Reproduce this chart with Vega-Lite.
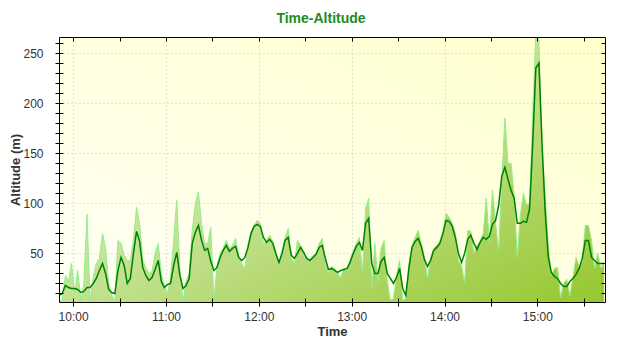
{
  "$schema": "https://vega.github.io/schema/vega-lite/v6.json",
  "width": 546,
  "height": 265,
  "autosize": {"type": "none"},
  "padding": {"left": 59, "top": 37, "right": 35, "bottom": 48},
  "background": "white",
  "config": {
    "font": "Liberation Sans",
    "view": {"stroke": null, "fill": {"gradient": "linear", "x1": 0, "y1": 1, "x2": 1, "y2": 0, "stops": [{"offset": 0, "color": "#fffff6"}, {"offset": 1, "color": "#ffffcc"}]}}
  },
  "title": {"text": "Time-Altitude", "color": "#228b22", "fontSize": 14, "fontWeight": "bold", "font": "Liberation Sans", "offset": 11, "dx": -11},
  "data": {
    "format": {"parse": {"t": "date:'%H:%M'"}},
    "values": [
      {"t":"09:51","s":8,"r":5},{"t":"09:53","s":10,"r":2},{"t":"09:55","s":18,"r":28},{"t":"09:57","s":16,"r":22},{"t":"09:59","s":15,"r":40},
      {"t":"10:01","s":15,"r":10},{"t":"10:03","s":14,"r":33},{"t":"10:05","s":11,"r":3},{"t":"10:07","s":12,"r":20},{"t":"10:09","s":16,"r":89},
      {"t":"10:11","s":16,"r":3},{"t":"10:13","s":20,"r":26},{"t":"10:15","s":25,"r":40},{"t":"10:17","s":33,"r":45},{"t":"10:19","s":40,"r":70},
      {"t":"10:21","s":30,"r":55},{"t":"10:23","s":14,"r":20},{"t":"10:25","s":11,"r":8},{"t":"10:27","s":10,"r":3},{"t":"10:29","s":33,"r":63},
      {"t":"10:31","s":46,"r":60},{"t":"10:33","s":38,"r":48},{"t":"10:35","s":20,"r":43},{"t":"10:37","s":25,"r":43},{"t":"10:39","s":50,"r":63},
      {"t":"10:41","s":72,"r":96},{"t":"10:43","s":62,"r":80},{"t":"10:45","s":36,"r":43},{"t":"10:47","s":28,"r":36},{"t":"10:49","s":23,"r":30},
      {"t":"10:51","s":26,"r":32},{"t":"10:53","s":34,"r":50},{"t":"10:55","s":43,"r":60},{"t":"10:57","s":22,"r":30},{"t":"10:59","s":16,"r":18},
      {"t":"11:01","s":19,"r":10},{"t":"11:03","s":20,"r":26},{"t":"11:05","s":38,"r":63},{"t":"11:07","s":51,"r":103},{"t":"11:09","s":28,"r":35},
      {"t":"11:11","s":15,"r":2},{"t":"11:13","s":18,"r":22},{"t":"11:15","s":25,"r":30},{"t":"11:17","s":60,"r":73},{"t":"11:19","s":71,"r":100},
      {"t":"11:21","s":78,"r":111},{"t":"11:23","s":63,"r":80},{"t":"11:25","s":53,"r":60},{"t":"11:27","s":55,"r":60},{"t":"11:29","s":42,"r":76},
      {"t":"11:31","s":33,"r":3},{"t":"11:33","s":36,"r":38},{"t":"11:35","s":46,"r":50},{"t":"11:37","s":53,"r":55},{"t":"11:39","s":58,"r":63},
      {"t":"11:41","s":52,"r":55},{"t":"11:43","s":55,"r":58},{"t":"11:45","s":57,"r":65},{"t":"11:47","s":46,"r":48},{"t":"11:49","s":43,"r":40},
      {"t":"11:51","s":46,"r":35},{"t":"11:53","s":56,"r":58},{"t":"11:55","s":70,"r":72},{"t":"11:57","s":77,"r":78},{"t":"11:59","s":79,"r":83},
      {"t":"12:01","s":77,"r":80},{"t":"12:03","s":66,"r":60},{"t":"12:05","s":61,"r":63},{"t":"12:07","s":64,"r":68},{"t":"12:09","s":60,"r":62},
      {"t":"12:11","s":50,"r":52},{"t":"12:13","s":41,"r":38},{"t":"12:15","s":50,"r":52},{"t":"12:17","s":63,"r":66},{"t":"12:19","s":66,"r":75},
      {"t":"12:21","s":48,"r":46},{"t":"12:23","s":45,"r":40},{"t":"12:25","s":50,"r":63},{"t":"12:27","s":56,"r":58},{"t":"12:29","s":51,"r":48},
      {"t":"12:31","s":45,"r":44},{"t":"12:33","s":43,"r":44},{"t":"12:35","s":46,"r":48},{"t":"12:37","s":49,"r":50},{"t":"12:39","s":56,"r":60},
      {"t":"12:41","s":58,"r":65},{"t":"12:43","s":45,"r":40},{"t":"12:45","s":34,"r":30},{"t":"12:47","s":35,"r":37},{"t":"12:49","s":33,"r":35},
      {"t":"12:51","s":31,"r":30},{"t":"12:53","s":33,"r":26},{"t":"12:55","s":34,"r":35},{"t":"12:57","s":35,"r":33},{"t":"12:59","s":41,"r":44},
      {"t":"13:01","s":50,"r":52},{"t":"13:03","s":57,"r":60},{"t":"13:05","s":61,"r":66},{"t":"13:07","s":53,"r":30},{"t":"13:09","s":80,"r":95},
      {"t":"13:11","s":85,"r":105},{"t":"13:13","s":40,"r":16},{"t":"13:15","s":30,"r":60},{"t":"13:17","s":30,"r":22},{"t":"13:19","s":42,"r":55},
      {"t":"13:21","s":46,"r":63},{"t":"13:23","s":30,"r":23},{"t":"13:25","s":25,"r":3},{"t":"13:27","s":20,"r":5},{"t":"13:29","s":26,"r":28},
      {"t":"13:31","s":35,"r":43},{"t":"13:33","s":15,"r":3},{"t":"13:35","s":8,"r":5},{"t":"13:37","s":35,"r":40},{"t":"13:39","s":56,"r":58},
      {"t":"13:41","s":62,"r":66},{"t":"13:43","s":65,"r":73},{"t":"13:45","s":57,"r":60},{"t":"13:47","s":44,"r":46},{"t":"13:49","s":37,"r":25},
      {"t":"13:51","s":43,"r":45},{"t":"13:53","s":53,"r":55},{"t":"13:55","s":56,"r":58},{"t":"13:57","s":60,"r":62},{"t":"13:59","s":70,"r":72},
      {"t":"14:01","s":83,"r":90},{"t":"14:03","s":82,"r":86},{"t":"14:05","s":77,"r":80},{"t":"14:07","s":66,"r":70},{"t":"14:09","s":50,"r":43},
      {"t":"14:11","s":41,"r":38},{"t":"14:13","s":50,"r":21},{"t":"14:15","s":64,"r":73},{"t":"14:17","s":68,"r":72},{"t":"14:19","s":60,"r":50},
      {"t":"14:21","s":54,"r":58},{"t":"14:23","s":61,"r":62},{"t":"14:25","s":66,"r":70},{"t":"14:27","s":64,"r":105},{"t":"14:29","s":67,"r":60},
      {"t":"14:31","s":79,"r":113},{"t":"14:33","s":83,"r":80},{"t":"14:35","s":98,"r":53},{"t":"14:37","s":127,"r":121},{"t":"14:39","s":136,"r":185},
      {"t":"14:41","s":124,"r":140},{"t":"14:43","s":113,"r":140},{"t":"14:45","s":105,"r":108},{"t":"14:47","s":80,"r":46},{"t":"14:49","s":80,"r":88},
      {"t":"14:51","s":82,"r":110},{"t":"14:53","s":81,"r":98},{"t":"14:55","s":95,"r":100},{"t":"14:57","s":160,"r":190},{"t":"14:59","s":235,"r":270},
      {"t":"15:01","s":240,"r":262},{"t":"15:03","s":160,"r":155},{"t":"15:05","s":93,"r":110},{"t":"15:07","s":47,"r":60},{"t":"15:09","s":31,"r":28},
      {"t":"15:11","s":27,"r":35},{"t":"15:13","s":25,"r":36},{"t":"15:15","s":20,"r":6},{"t":"15:17","s":17,"r":20},{"t":"15:19","s":17,"r":24},
      {"t":"15:21","s":22,"r":8},{"t":"15:23","s":25,"r":26},{"t":"15:25","s":29,"r":46},{"t":"15:27","s":35,"r":36},{"t":"15:29","s":45,"r":42},
      {"t":"15:31","s":63,"r":78},{"t":"15:33","s":63,"r":78},{"t":"15:35","s":46,"r":63},{"t":"15:37","s":43,"r":35},{"t":"15:39","s":40,"r":50},
      {"t":"15:41","s":40,"r":35},{"t":"15:43","s":40,"r":40}
    ]
  },
  "resolve": {"scale": {"x": "independent", "y": "independent"}, "axis": {"x": "independent", "y": "independent"}},
  "layer": [
    {
      "mark": {"type": "area", "clip": true, "interpolate": "linear",
        "fill": {"gradient": "linear", "x1": 0, "y1": 0, "x2": 1, "y2": 1, "stops": [{"offset": 0, "color": "#e2f3c4"}, {"offset": 0.5, "color": "#c3e190"}, {"offset": 1, "color": "#96c72e"}]}},
      "encoding": {
        "x": {"field": "t", "type": "temporal",
          "scale": {"domain": [{"year": 1900, "month": 1, "date": 1, "hours": 9, "minutes": 50, "seconds": 54}, {"year": 1900, "month": 1, "date": 1, "hours": 15, "minutes": 43, "seconds": 42}]},
          "axis": {"orient": "bottom", "title": "Time", "zindex": 0, "domain": false,
            "values": [
              {"year": 1900, "month": 1, "date": 1, "hours": 10, "minutes": 0}, {"year": 1900, "month": 1, "date": 1, "hours": 10, "minutes": 30},
              {"year": 1900, "month": 1, "date": 1, "hours": 11, "minutes": 0}, {"year": 1900, "month": 1, "date": 1, "hours": 11, "minutes": 30},
              {"year": 1900, "month": 1, "date": 1, "hours": 12, "minutes": 0}, {"year": 1900, "month": 1, "date": 1, "hours": 12, "minutes": 30},
              {"year": 1900, "month": 1, "date": 1, "hours": 13, "minutes": 0}, {"year": 1900, "month": 1, "date": 1, "hours": 13, "minutes": 30},
              {"year": 1900, "month": 1, "date": 1, "hours": 14, "minutes": 0}, {"year": 1900, "month": 1, "date": 1, "hours": 14, "minutes": 30},
              {"year": 1900, "month": 1, "date": 1, "hours": 15, "minutes": 0}, {"year": 1900, "month": 1, "date": 1, "hours": 15, "minutes": 30}
            ],
            "labelExpr": "minutes(datum.value) == 0 ? timeFormat(datum.value, '%H:%M') : ''",
            "labelFont": "Liberation Sans", "labelFontSize": 12, "labelColor": "#333333", "labelPadding": 5, "labelFlush": false, "labelOverlap": false,
            "tickSize": 4, "tickColor": "#000000",
            "grid": true, "gridColor": "#c4c4c4", "gridDash": [1, 3],
            "gridOpacity": {"condition": {"test": "minutes(datum.value) == 0", "value": 1}, "value": 0},
            "titleFont": "Liberation Sans", "titleFontSize": 13, "titleFontWeight": "bold", "titleColor": "#333333", "titlePadding": 3}
        },
        "y": {"field": "r", "type": "quantitative",
          "scale": {"domain": [1.5, 266], "zero": false, "nice": false},
          "axis": {"orient": "left", "title": "Altitude (m)", "zindex": 0, "domain": false,
            "values": [10, 20, 30, 40, 50, 60, 70, 80, 90, 100, 110, 120, 130, 140, 150, 160, 170, 180, 190, 200, 210, 220, 230, 240, 250, 260],
            "labelExpr": "datum.value % 50 == 0 ? datum.label : ''",
            "labelFont": "Liberation Sans", "labelFontSize": 12, "labelColor": "#333333", "labelPadding": 12, "labelOverlap": false,
            "tickSize": 4, "tickColor": "#000000",
            "grid": true, "gridColor": "#c4c4c4", "gridDash": [1, 3],
            "gridOpacity": {"condition": {"test": "datum.value % 50 == 0", "value": 1}, "value": 0},
            "titleFont": "Liberation Sans", "titleFontSize": 13, "titleFontWeight": "bold", "titleColor": "#333333", "titlePadding": 0}
        }
      }
    },
    {
      "mark": {"type": "line", "clip": true, "color": "#90ee90", "strokeWidth": 1},
      "encoding": {
        "x": {"field": "t", "type": "temporal",
          "scale": {"domain": [{"year": 1900, "month": 1, "date": 1, "hours": 9, "minutes": 50, "seconds": 54}, {"year": 1900, "month": 1, "date": 1, "hours": 15, "minutes": 43, "seconds": 42}]},
          "axis": {"orient": "top", "title": null, "labels": false, "grid": false, "zindex": 1,
            "values": [
              {"year": 1900, "month": 1, "date": 1, "hours": 10, "minutes": 0}, {"year": 1900, "month": 1, "date": 1, "hours": 10, "minutes": 30},
              {"year": 1900, "month": 1, "date": 1, "hours": 11, "minutes": 0}, {"year": 1900, "month": 1, "date": 1, "hours": 11, "minutes": 30},
              {"year": 1900, "month": 1, "date": 1, "hours": 12, "minutes": 0}, {"year": 1900, "month": 1, "date": 1, "hours": 12, "minutes": 30},
              {"year": 1900, "month": 1, "date": 1, "hours": 13, "minutes": 0}, {"year": 1900, "month": 1, "date": 1, "hours": 13, "minutes": 30},
              {"year": 1900, "month": 1, "date": 1, "hours": 14, "minutes": 0}, {"year": 1900, "month": 1, "date": 1, "hours": 14, "minutes": 30},
              {"year": 1900, "month": 1, "date": 1, "hours": 15, "minutes": 0}, {"year": 1900, "month": 1, "date": 1, "hours": 15, "minutes": 30}
            ],
            "tickSize": -4, "tickColor": "#000000", "domainColor": "#000000"}
        },
        "y": {"field": "r", "type": "quantitative",
          "scale": {"domain": [1.5, 266], "zero": false, "nice": false},
          "axis": {"orient": "right", "title": null, "labels": false, "grid": false, "zindex": 1,
            "values": [10, 20, 30, 40, 50, 60, 70, 80, 90, 100, 110, 120, 130, 140, 150, 160, 170, 180, 190, 200, 210, 220, 230, 240, 250, 260],
            "tickSize": -4, "tickColor": "#000000", "domainColor": "#000000"}
        }
      }
    },
    {
      "mark": {"type": "line", "clip": true, "color": "#008000", "strokeWidth": 1.5},
      "encoding": {
        "x": {"field": "t", "type": "temporal",
          "scale": {"domain": [{"year": 1900, "month": 1, "date": 1, "hours": 9, "minutes": 50, "seconds": 54}, {"year": 1900, "month": 1, "date": 1, "hours": 15, "minutes": 43, "seconds": 42}]},
          "axis": {"orient": "bottom", "title": null, "labels": false, "grid": false, "domain": true, "domainColor": "#000000", "zindex": 1,
            "values": [
              {"year": 1900, "month": 1, "date": 1, "hours": 10, "minutes": 0}, {"year": 1900, "month": 1, "date": 1, "hours": 10, "minutes": 30},
              {"year": 1900, "month": 1, "date": 1, "hours": 11, "minutes": 0}, {"year": 1900, "month": 1, "date": 1, "hours": 11, "minutes": 30},
              {"year": 1900, "month": 1, "date": 1, "hours": 12, "minutes": 0}, {"year": 1900, "month": 1, "date": 1, "hours": 12, "minutes": 30},
              {"year": 1900, "month": 1, "date": 1, "hours": 13, "minutes": 0}, {"year": 1900, "month": 1, "date": 1, "hours": 13, "minutes": 30},
              {"year": 1900, "month": 1, "date": 1, "hours": 14, "minutes": 0}, {"year": 1900, "month": 1, "date": 1, "hours": 14, "minutes": 30},
              {"year": 1900, "month": 1, "date": 1, "hours": 15, "minutes": 0}, {"year": 1900, "month": 1, "date": 1, "hours": 15, "minutes": 30}
            ],
            "tickSize": -4, "tickColor": "#000000"}
        },
        "y": {"field": "s", "type": "quantitative",
          "scale": {"domain": [1.5, 266], "zero": false, "nice": false},
          "axis": {"orient": "left", "title": null, "labels": false, "grid": false, "domain": true, "domainColor": "#000000", "zindex": 1,
            "values": [10, 20, 30, 40, 50, 60, 70, 80, 90, 100, 110, 120, 130, 140, 150, 160, 170, 180, 190, 200, 210, 220, 230, 240, 250, 260],
            "tickSize": -4, "tickColor": "#000000"}
        }
      }
    }
  ]
}
